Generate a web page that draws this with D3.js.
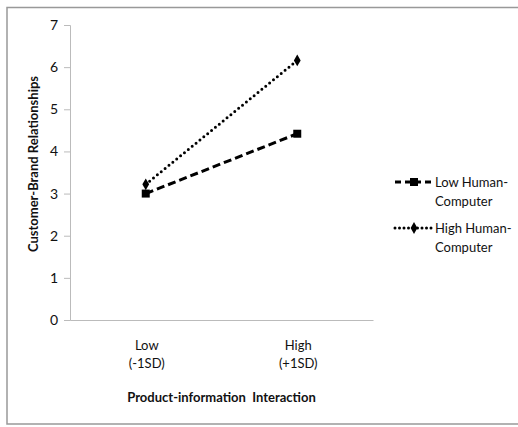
<!DOCTYPE html>
<html><head><meta charset="utf-8">
<script src="https://cdn.jsdelivr.net/npm/d3@7"></script>
<style>
html,body{margin:0;padding:0;background:#fff;}
svg{display:block;font-family:Lato,"Open Sans",sans-serif;}
</style></head>
<body><svg id="chart" width="518" height="427"></svg>
<script>
const categories = [["Low","(-1SD)"],["High","(+1SD)"]];
const seriesNames = [["Low Human-","Computer"],["High Human-","Computer"]];
const lowHC = [3.0, 4.42];
const highHC = [3.22, 6.16];
const yTicks = [0,1,2,3,4,5,6,7];
const yTitle = "Customer-Brand Relationships";
const xTitle = "Product-information  Interaction";

const svg = d3.select("#chart");
// outer frame
svg.append("rect").attr("x",7).attr("y",7.5).attr("width",512).attr("height",416.5)
  .attr("fill","#fff").attr("stroke","#999").attr("stroke-width",1.5);

const plot = {left:70, right:373, top:25, bottom:320};
const x = d3.scaleBand().domain([0,1]).range([plot.left, plot.right]);
const y = d3.scaleLinear().domain([0,7]).range([plot.bottom, plot.top]);

// y axis
const yAxis = d3.axisLeft(y).tickValues(yTicks).tickSize(6).tickPadding(6).tickFormat(d3.format("d"));
const gy = svg.append("g").attr("transform",`translate(${plot.left},0)`).call(yAxis);
gy.select(".domain").attr("stroke","#bbb");
gy.selectAll(".tick line").attr("stroke","#bbb");
gy.selectAll(".tick text").attr("font-size",14).attr("fill","#111").attr("font-family","Lato,sans-serif");

// x axis line
const xAxis = d3.axisBottom(x).tickSize(0).tickFormat("");
const gx = svg.append("g").attr("transform",`translate(0,${plot.bottom})`).call(xAxis);
gx.select(".domain").attr("stroke","#bbb");

// category labels
categories.forEach((c,i)=>{
  const cx = x(i) + x.bandwidth()/2 + 1;
  c.forEach((t,j)=>{
    svg.append("text").attr("x",cx).attr("y",350 + j*18).attr("text-anchor","middle")
      .attr("font-size",13).attr("fill","#111").text(t);
  });
});

// titles
svg.append("text").attr("x",(plot.left+plot.right)/2).attr("y",402).attr("text-anchor","middle")
  .attr("font-size",13).attr("font-weight","bold").attr("fill","#111").attr("xml:space","preserve").text(xTitle);
svg.append("text").attr("transform","translate(38,164) rotate(-90)").attr("text-anchor","middle")
  .attr("font-size",13).attr("font-weight","bold").attr("fill","#111").text(yTitle);

const cxs = [0,1].map(i=>x(i)+x.bandwidth()/2);
const line = d3.line().x((d,i)=>cxs[i]).y(d=>y(d));

// series
svg.append("path").datum(lowHC).attr("d",line).attr("fill","none").attr("stroke","#000")
  .attr("stroke-width",3).attr("stroke-dasharray","8,4");
svg.append("path").datum(highHC).attr("d",line).attr("fill","none").attr("stroke","#000")
  .attr("stroke-width",3).attr("stroke-dasharray","0,5").attr("stroke-linecap","round");

const sq = d3.symbol().type(d3.symbolSquare).size(64);
const dm = d3.symbol().type(d3.symbolDiamond).size(40);
highHC.forEach((v,i)=>svg.append("path").attr("d",dm()).attr("transform",`translate(${cxs[i]},${y(v)})`).attr("fill","#000"));
lowHC.forEach((v,i)=>svg.append("path").attr("d",sq()).attr("transform",`translate(${cxs[i]},${y(v)})`).attr("fill","#000"));

// legend
const legY = [182, 228];
seriesNames.forEach((nm,k)=>{
  const ly = legY[k];
  const g = svg.append("g");
  if(k===0){
    g.append("line").attr("x1",395).attr("x2",433).attr("y1",ly).attr("y2",ly)
      .attr("stroke","#000").attr("stroke-width",3).attr("stroke-dasharray","6,4");
    g.append("path").attr("d",sq()).attr("transform",`translate(414,${ly})`).attr("fill","#000");
  } else {
    g.append("line").attr("x1",395).attr("x2",433).attr("y1",ly).attr("y2",ly)
      .attr("stroke","#000").attr("stroke-width",3).attr("stroke-dasharray","0,4.5").attr("stroke-linecap","round");
    g.append("path").attr("d",dm()).attr("transform",`translate(414,${ly})`).attr("fill","#000");
  }
  nm.forEach((t,j)=>{
    g.append("text").attr("x",435).attr("y",ly + 5 + j*19).attr("font-size",13).attr("fill","#111").text(t);
  });
});
</script></body></html>
